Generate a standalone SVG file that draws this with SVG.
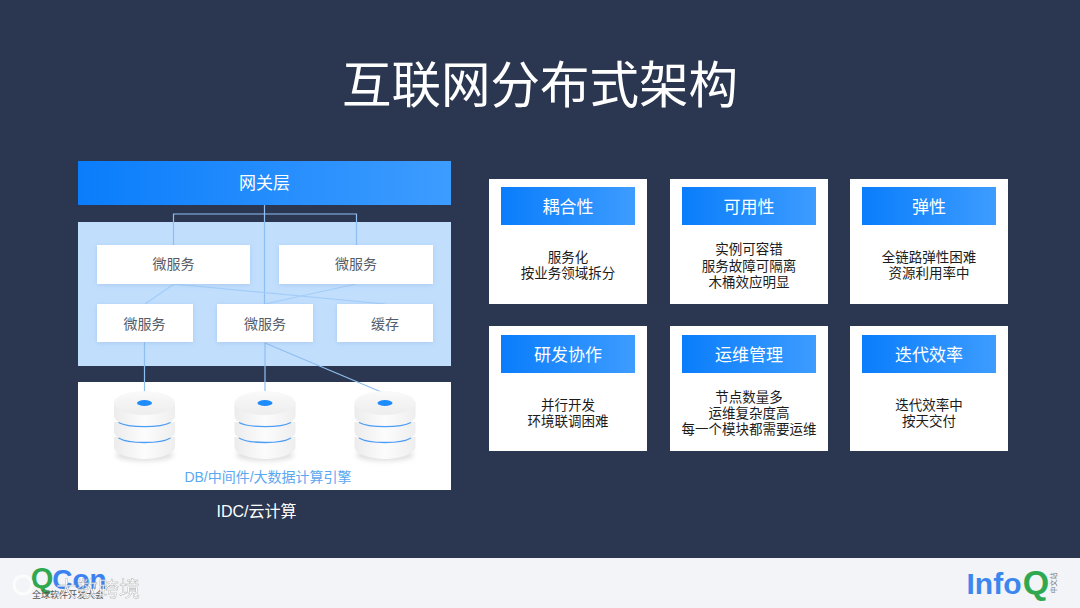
<svg xmlns="http://www.w3.org/2000/svg" width="1080" height="608" viewBox="0 0 1080 608">
<style>
text{font-family:"Liberation Sans","Noto Sans CJK SC",sans-serif;text-anchor:middle}
.h{fill:url(#g)}
.w{fill:#fff}
.box{fill:#fff;filter:url(#s)}
.bt{font-size:14px;fill:#555c68}
.ht{font-size:17px;fill:#fff}
.ct{font-size:13.5px;fill:#1c1c1c}
.c{fill:none;stroke:#a3cdf8;stroke-width:1.2}
.c2{fill:none;stroke:#8fbef0;stroke-width:1.2}
</style>
<defs>
<linearGradient id="g" x1="0" x2="1" y1="0" y2="0"><stop offset="0" stop-color="#0a7dfb"/><stop offset="1" stop-color="#3d9cff"/></linearGradient>
<linearGradient id="cy" x1="0" x2="1" y1="0" y2="0"><stop offset="0" stop-color="#ececec"/><stop offset=".5" stop-color="#fcfcfc"/><stop offset="1" stop-color="#eeeeee"/></linearGradient>
<linearGradient id="top" x1="0" x2="0" y1="0" y2="1"><stop offset="0" stop-color="#fafafa"/><stop offset="1" stop-color="#ededed"/></linearGradient>
<filter id="s" x="-10%" y="-20%" width="120%" height="150%"><feDropShadow dx="0" dy="1" stdDeviation="2.5" flood-color="#7fa6d0" flood-opacity=".35"/></filter>
<filter id="b" x="-20%" y="-50%" width="140%" height="200%"><feGaussianBlur stdDeviation="2.5"/></filter>
<g id="db">
<ellipse cx="0" cy="62" rx="29" ry="6" fill="#dedede" filter="url(#b)"/>
<path d="M-30.500 44V54C-30.500 61 -14 66 0 66S30.500 61 30.500 54V44Z" fill="url(#cy)"/>
<path d="M-30.500 29V39C-30.500 46 -14 50 0 50S30.500 46 30.500 39V29Z" fill="url(#cy)"/>
<path d="M-26 45C-16 51 16 51 26 45" fill="none" stroke="#4d9df5" stroke-width="1.300"/>
<path d="M-30.500 9V23C-30.500 30 -14 35 0 35S30.500 30 30.500 23V9Z" fill="url(#cy)"/>
<path d="M-26 29.500C-16 35 16 35 26 29.500" fill="none" stroke="#4d9df5" stroke-width="1.300"/>
<ellipse cx="0" cy="10" rx="30.500" ry="12" fill="url(#top)"/>
<ellipse cx="0" cy="10" rx="7.500" ry="3" fill="#1f8cfb"/>
</g>
</defs>
<rect width="1080" height="608" fill="#2b3750"/>
<text x="540" y="103" font-size="49.500" fill="#fff">互联网分布式架构</text>

<g id="gateway"><rect class="h" x="78" y="161" width="373" height="44"/><text class="ht" x="264.500" y="189">网关层</text></g>
<g id="panel"><rect x="78" y="222" width="373" height="144" fill="#c1defd"/></g>
<g id="storage"><rect class="w" x="78" y="382" width="373" height="108"/></g>

<g id="connectors">
<path class="c2" d="M264.500 205V304M173.500 245V214H356.500V245"/>
<path class="c" d="M174 284L145 304M174 284L385 304M356 284L265 304"/>
<path class="c2" d="M144.500 342V393.500M265 342V393.500M265 343L386 394"/>
</g>

<g id="svc1"><rect class="box" x="97" y="245" width="153" height="39"/><text class="bt" x="173.500" y="269">微服务</text></g>
<g id="svc2"><rect class="box" x="279" y="245" width="154" height="39"/><text class="bt" x="356" y="269">微服务</text></g>
<g id="svc3"><rect class="box" x="97" y="304" width="96" height="38"/><text class="bt" x="144.500" y="329">微服务</text></g>
<g id="svc4"><rect class="box" x="217" y="304" width="96" height="38"/><text class="bt" x="265" y="329">微服务</text></g>
<g id="cache"><rect class="box" x="337" y="304" width="96" height="38"/><text class="bt" x="385" y="329">缓存</text></g>

<use id="db1" href="#db" x="144.500" y="393"/>
<use id="db2" href="#db" x="265" y="393"/>
<use id="db3" href="#db" x="385" y="393"/>
<text x="268" y="482" font-size="14" fill="#5aa8f0">DB/中间件/大数据计算引擎</text>
<text x="256.500" y="517" font-size="16" fill="#fff">IDC/云计算</text>

<g id="card1"><rect class="w" x="489" y="179" width="158" height="125"/><rect class="h" x="501" y="187" width="134" height="38"/><text class="ht" x="568" y="213">耦合性</text><text class="ct" x="568" y="262">服务化</text><text class="ct" x="568" y="278">按业务领域拆分</text></g>
<g id="card2"><rect class="w" x="670" y="179" width="158" height="125"/><rect class="h" x="682" y="187" width="134" height="38"/><text class="ht" x="749" y="213">可用性</text><text class="ct" x="749" y="254">实例可容错</text><text class="ct" x="749" y="271">服务故障可隔离</text><text class="ct" x="749" y="287">木桶效应明显</text></g>
<g id="card3"><rect class="w" x="850" y="179" width="158" height="125"/><rect class="h" x="862" y="187" width="134" height="38"/><text class="ht" x="929" y="213">弹性</text><text class="ct" x="929" y="262">全链路弹性困难</text><text class="ct" x="929" y="278">资源利用率中</text></g>
<g id="card4"><rect class="w" x="489" y="326" width="158" height="125"/><rect class="h" x="501" y="335" width="134" height="38"/><text class="ht" x="568" y="361">研发协作</text><text class="ct" x="568" y="410">并行开发</text><text class="ct" x="568" y="426">环境联调困难</text></g>
<g id="card5"><rect class="w" x="670" y="326" width="158" height="125"/><rect class="h" x="682" y="335" width="134" height="38"/><text class="ht" x="749" y="361">运维管理</text><text class="ct" x="749" y="402">节点数量多</text><text class="ct" x="749" y="418">运维复杂度高</text><text class="ct" x="749" y="434">每一个模块都需要运维</text></g>
<g id="card6"><rect class="w" x="850" y="326" width="158" height="125"/><rect class="h" x="862" y="335" width="134" height="38"/><text class="ht" x="929" y="361">迭代效率</text><text class="ct" x="929" y="410">迭代效率中</text><text class="ct" x="929" y="426">按天交付</text></g>

<rect y="558" width="1080" height="50" fill="#f2f4f7"/>
<g id="qcon">
<text x="42" y="588" font-size="29" font-weight="700" fill="#2fa84f">Q</text>
<text x="79.500" y="589" font-size="28" font-weight="700" fill="#3b82f0">Con</text>
<text x="68" y="598" font-size="9" fill="#555">全球软件开发大会</text>
</g>
<g id="watermark" opacity=".8">
<circle cx="23" cy="585" r="9" fill="none" stroke="#fff" stroke-width="3"/>
<text x="98" y="596" font-size="21" fill="#fff" stroke="#999" stroke-width=".4">大数跨境</text>
</g>
<g id="infoq">
<text x="994" y="594" font-size="30" font-weight="700" fill="#3c87ee">Info</text>
<text x="1036" y="594" font-size="34" font-weight="700" fill="#2fa84f">Q</text>
<text transform="translate(1056 583) rotate(-90)" font-size="7" fill="#777">中文站</text>
</g>
</svg>
